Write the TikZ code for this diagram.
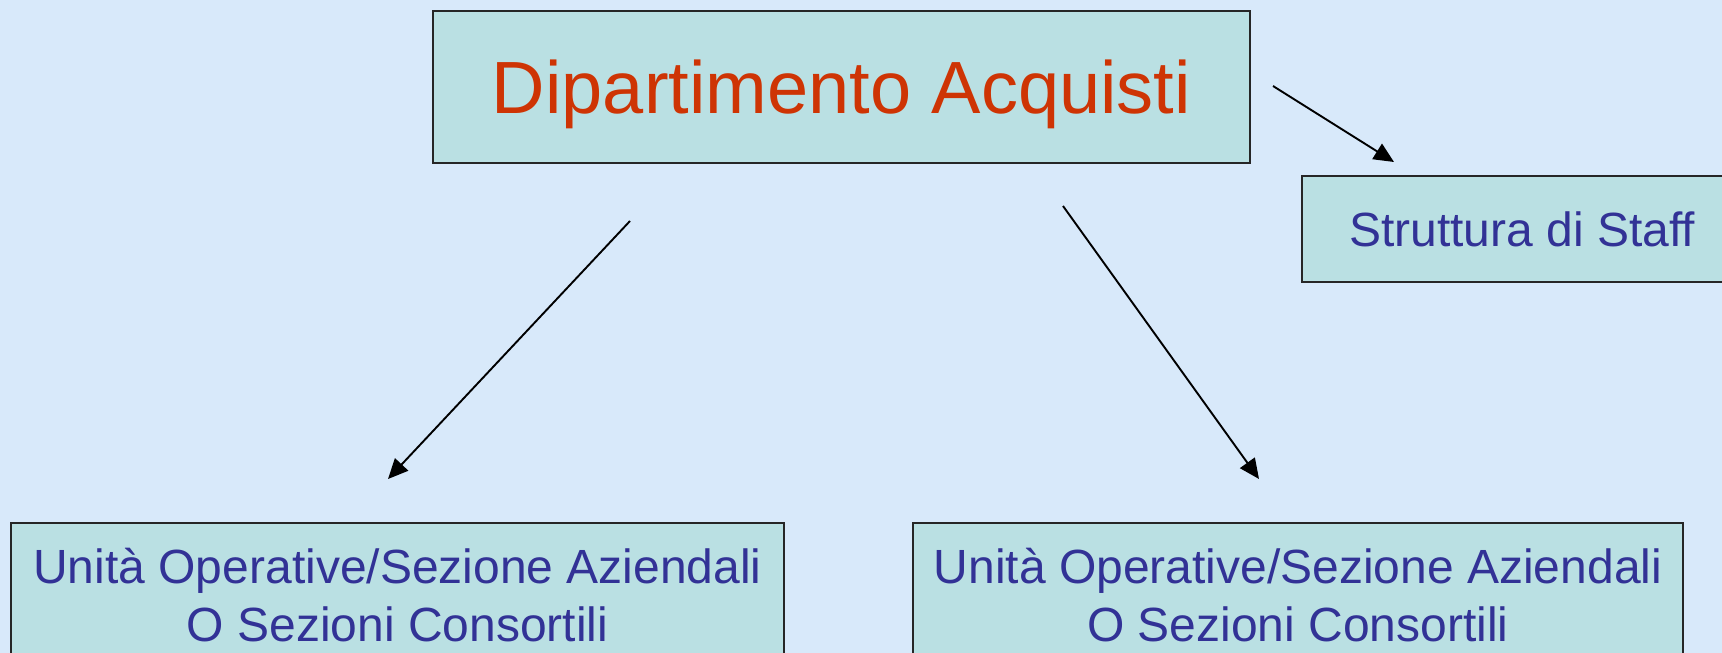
\documentclass[tikz,border=0pt]{standalone}
\usepackage{fontspec}
\setmainfont{Liberation Sans}
\usetikzlibrary{arrows.meta}
\definecolor{bgblue}{RGB}{216,233,250}
\definecolor{boxfill}{RGB}{186,224,227}
\definecolor{redtext}{RGB}{206,52,4}
\definecolor{bluetext}{RGB}{50,50,150}
\tikzset{
  orgbox/.style={draw=black!85, line width=1.6pt, fill=boxfill, rectangle},
  orgarrow/.style={line width=1.9pt, -{Triangle[length=20pt,width=18pt]}}
}
\begin{document}
\begin{tikzpicture}[x=1pt,y=-1pt]
\useasboundingbox (0,0) rectangle (1722,653);
\clip (0,0) rectangle (1722,653);
\fill[bgblue] (0,0) rectangle (1722,653);
% nodes
\node[orgbox, minimum width=817pt, minimum height=152pt, inner sep=0pt,
      text=redtext, font=\fontsize{74}{89}\selectfont, text height=53pt, text depth=0pt]
      (main) at (841.5,87) {Dipartimento Acquisti};
\node[orgbox, minimum width=440pt, minimum height=106pt, inner sep=0pt,
      text=bluetext, font=\fontsize{48}{58}\selectfont]
      (staff) at (1522,229) {Struttura di Staff};
\node[orgbox, anchor=north, minimum width=773pt, inner xsep=0pt, inner ysep=25pt,
      align=center, text=bluetext, font=\fontsize{48}{58}\selectfont]
      (left) at (397.5,522) {Unità Operative/Sezione Aziendali\\O Sezioni Consortili};
\node[orgbox, anchor=north, minimum width=770pt, inner xsep=0pt, inner ysep=25pt,
      align=center, text=bluetext, font=\fontsize{48}{58}\selectfont]
      (right) at (1298,522) {Unità Operative/Sezione Aziendali\\O Sezioni Consortili};
% connector end points
\coordinate (s1) at (1273,86);
\coordinate (e1) at (1394,162);
\coordinate (s2) at (630,221);
\coordinate (e2) at (388,479);
\coordinate (s3) at (1063,206);
\coordinate (e3) at (1259,479);
\draw[orgarrow] (s1) -- (e1);
\draw[orgarrow] (s2) -- (e2);
\draw[orgarrow] (s3) -- (e3);
\end{tikzpicture}
\end{document}
